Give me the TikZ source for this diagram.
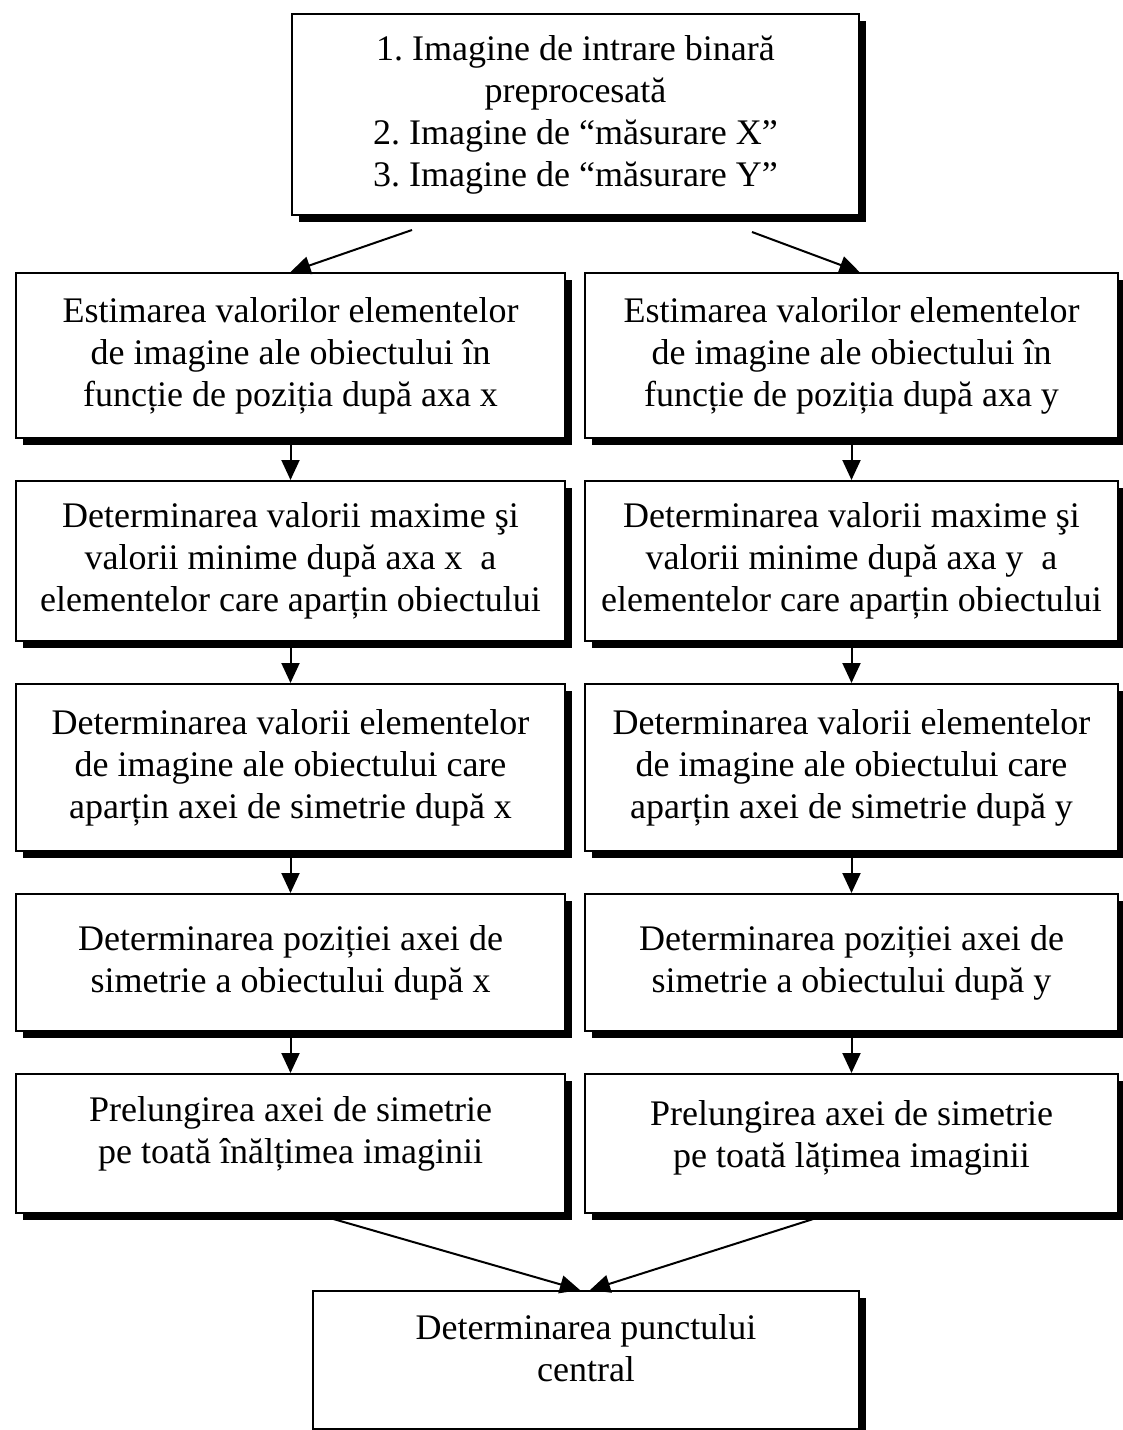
\documentclass[tikz,border=0pt]{standalone}
\usepackage{fontspec}
\setmainfont{Liberation Serif}
\usepackage{tikz}
\usetikzlibrary{shadows,arrows.meta}
\frenchspacing

\begin{document}
\begin{tikzpicture}[x=0.5pt, y=-0.5pt, line width=1pt,
         stepbox/.style = {draw, fill=white, align=center, inner sep=0pt, font=\fontsize{18}{21}\selectfont,
                           drop shadow={shadow xshift=3.5pt, shadow yshift=-3.5pt, fill=black, opacity=1}},
         leftcol/.style = {stepbox, minimum width=274.5pt},
        rightcol/.style = {stepbox, minimum width=266.5pt},
            flow/.style = {-{Triangle[length=10pt, width=9pt]}, line width=1pt}]
    \useasboundingbox (0,0) rectangle (1123,1430);
    \node[stepbox, minimum width=283.5pt, minimum height=100.5pt, anchor=north west] (input) at (291,13)
        {1. Imagine de intrare binară\\ preprocesată\\ 2. Imagine de ``măsurare X''\\ 3. Imagine de ``măsurare Y''};
    \matrix (grid) [anchor=north west, inner sep=0pt, column sep=9pt, row sep=20.5pt] at (14,271) {
        \node[leftcol, minimum height=82.5pt] (estx) {Estimarea valorilor elementelor\\ de imagine ale obiectului în\\ funcție de poziția după axa x}; &
        \node[rightcol, minimum height=82.5pt] (esty) {Estimarea valorilor elementelor\\ de imagine ale obiectului în\\ funcție de poziția după axa y}; \\
        \node[leftcol, minimum height=80pt] (extx) {Determinarea valorii maxime şi\\ valorii minime după axa x~ a\\ elementelor care aparțin obiectului}; &
        \node[rightcol, minimum height=80pt] (exty) {Determinarea valorii maxime şi\\ valorii minime după axa y~ a\\ elementelor care aparțin obiectului}; \\
        \node[leftcol, minimum height=83.5pt] (simx) {Determinarea valorii elementelor\\ de imagine ale obiectului care\\ aparțin axei de simetrie după x}; &
        \node[rightcol, minimum height=83.5pt] (simy) {Determinarea valorii elementelor\\ de imagine ale obiectului care\\ aparțin axei de simetrie după y}; \\
        \node[leftcol, minimum height=68.5pt] (axx) {Determinarea poziției axei de\\ simetrie a obiectului după x}; &
        \node[rightcol, minimum height=68.5pt] (axy) {Determinarea poziției axei de\\ simetrie a obiectului după y}; \\
        \node[leftcol, minimum height=69.5pt, text depth=14pt] (prelx) {Prelungirea axei de simetrie\\ pe toată înălțimea imaginii}; &
        \node[rightcol, minimum height=69.5pt, text depth=10pt] (prely) {Prelungirea axei de simetrie\\ pe toată lățimea imaginii}; \\
    };
    \node[stepbox, minimum width=273pt, minimum height=69pt, text depth=12pt, anchor=north west] (centru) at (312,1290)
        {Determinarea punctului\\ central};

    % ramificare din imaginea de intrare
    \coordinate (splitL) at ([xshift=60.5pt, yshift=-7pt]input.south west);
    \coordinate (splitR) at ([xshift=-54pt, yshift=-8pt]input.south east);
    \draw[flow] (splitL) -- (estx.north);
    \draw[flow] (splitR) -- ([xshift=4pt]esty.north);

    % cele doua coloane
    \draw[flow] (estx) -- (extx);
    \draw[flow] (extx) -- (simx);
    \draw[flow] (simx) -- (axx);
    \draw[flow] (axx) -- (prelx);
    \draw[flow] (esty) -- (exty);
    \draw[flow] (exty) -- (simy);
    \draw[flow] (simy) -- (axy);
    \draw[flow] (axy) -- (prely);

    % unirea spre punctul central
    \draw[flow] ([xshift=150.5pt]prelx.south west) -- ([xshift=-3pt]centru.north);
    \draw[flow] ([xshift=122.5pt]prely.south west) -- ([xshift=2pt]centru.north);
\end{tikzpicture}
\end{document}
